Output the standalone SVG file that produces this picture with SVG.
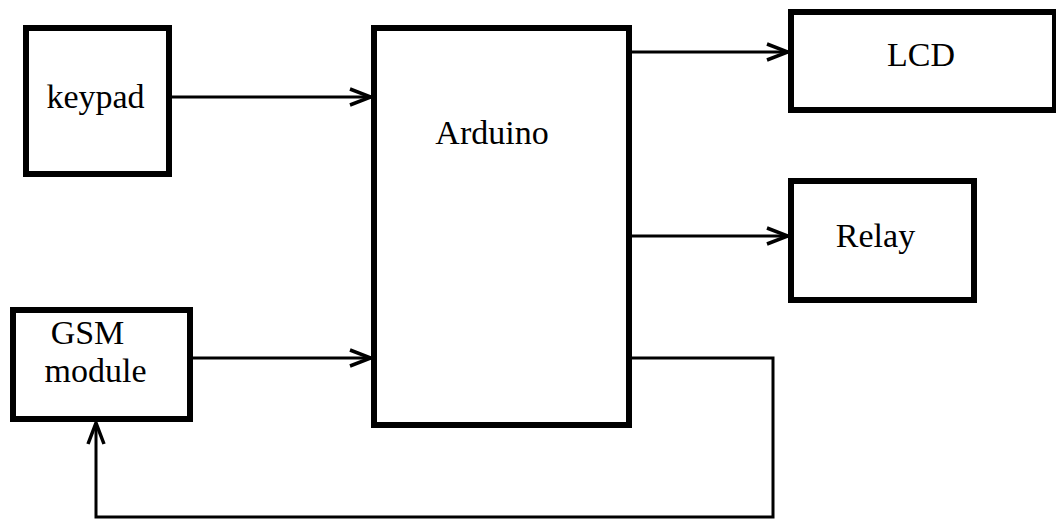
<svg xmlns="http://www.w3.org/2000/svg" width="1056" height="520" viewBox="0 0 1056 520">
<style>
.box{fill:#fff;stroke:#000;stroke-width:6}
.lbl{font-family:"Liberation Serif","Times New Roman",serif;font-size:34px;fill:#000;text-anchor:middle}
.wire{fill:none;stroke:#000;stroke-width:3}
</style>
<defs>
<marker id="arr" viewBox="0 0 24 20" refX="22" refY="10" markerWidth="24" markerHeight="20" markerUnits="userSpaceOnUse" orient="auto">
<path d="M1,2 L22,10 L1,18" fill="none" stroke="#000" stroke-width="3.5"/>
</marker>
</defs>
<rect width="1056" height="520" fill="#fff"/>
<g id="connectors">
<line class="wire" x1="172" y1="97" x2="371" y2="97" marker-end="url(#arr)"/>
<line class="wire" x1="193" y1="358" x2="371" y2="358" marker-end="url(#arr)"/>
<line class="wire" x1="632" y1="52" x2="788" y2="52" marker-end="url(#arr)"/>
<line class="wire" x1="632" y1="236" x2="788" y2="236" marker-end="url(#arr)"/>
<polyline class="wire" points="632,358 773,358 773,517 96,517 96,423" marker-end="url(#arr)"/>
</g>
<g id="keypad">
<rect class="box" x="26" y="28" width="143" height="146"/>
<text class="lbl" x="95.5" y="108">keypad</text>
</g>
<g id="arduino">
<rect class="box" x="374" y="28" width="255" height="397"/>
<text class="lbl" x="492" y="144">Arduino</text>
</g>
<g id="lcd">
<rect class="box" x="791" y="12" width="264" height="98"/>
<text class="lbl" x="921" y="66">LCD</text>
</g>
<g id="relay">
<rect class="box" x="791" y="181" width="183" height="119"/>
<text class="lbl" x="875.5" y="247">Relay</text>
</g>
<g id="gsm">
<rect class="box" x="13" y="310" width="177" height="109"/>
<text class="lbl" x="87.5" y="344">GSM</text>
<text class="lbl" x="95.5" y="382">module</text>
</g>
</svg>
